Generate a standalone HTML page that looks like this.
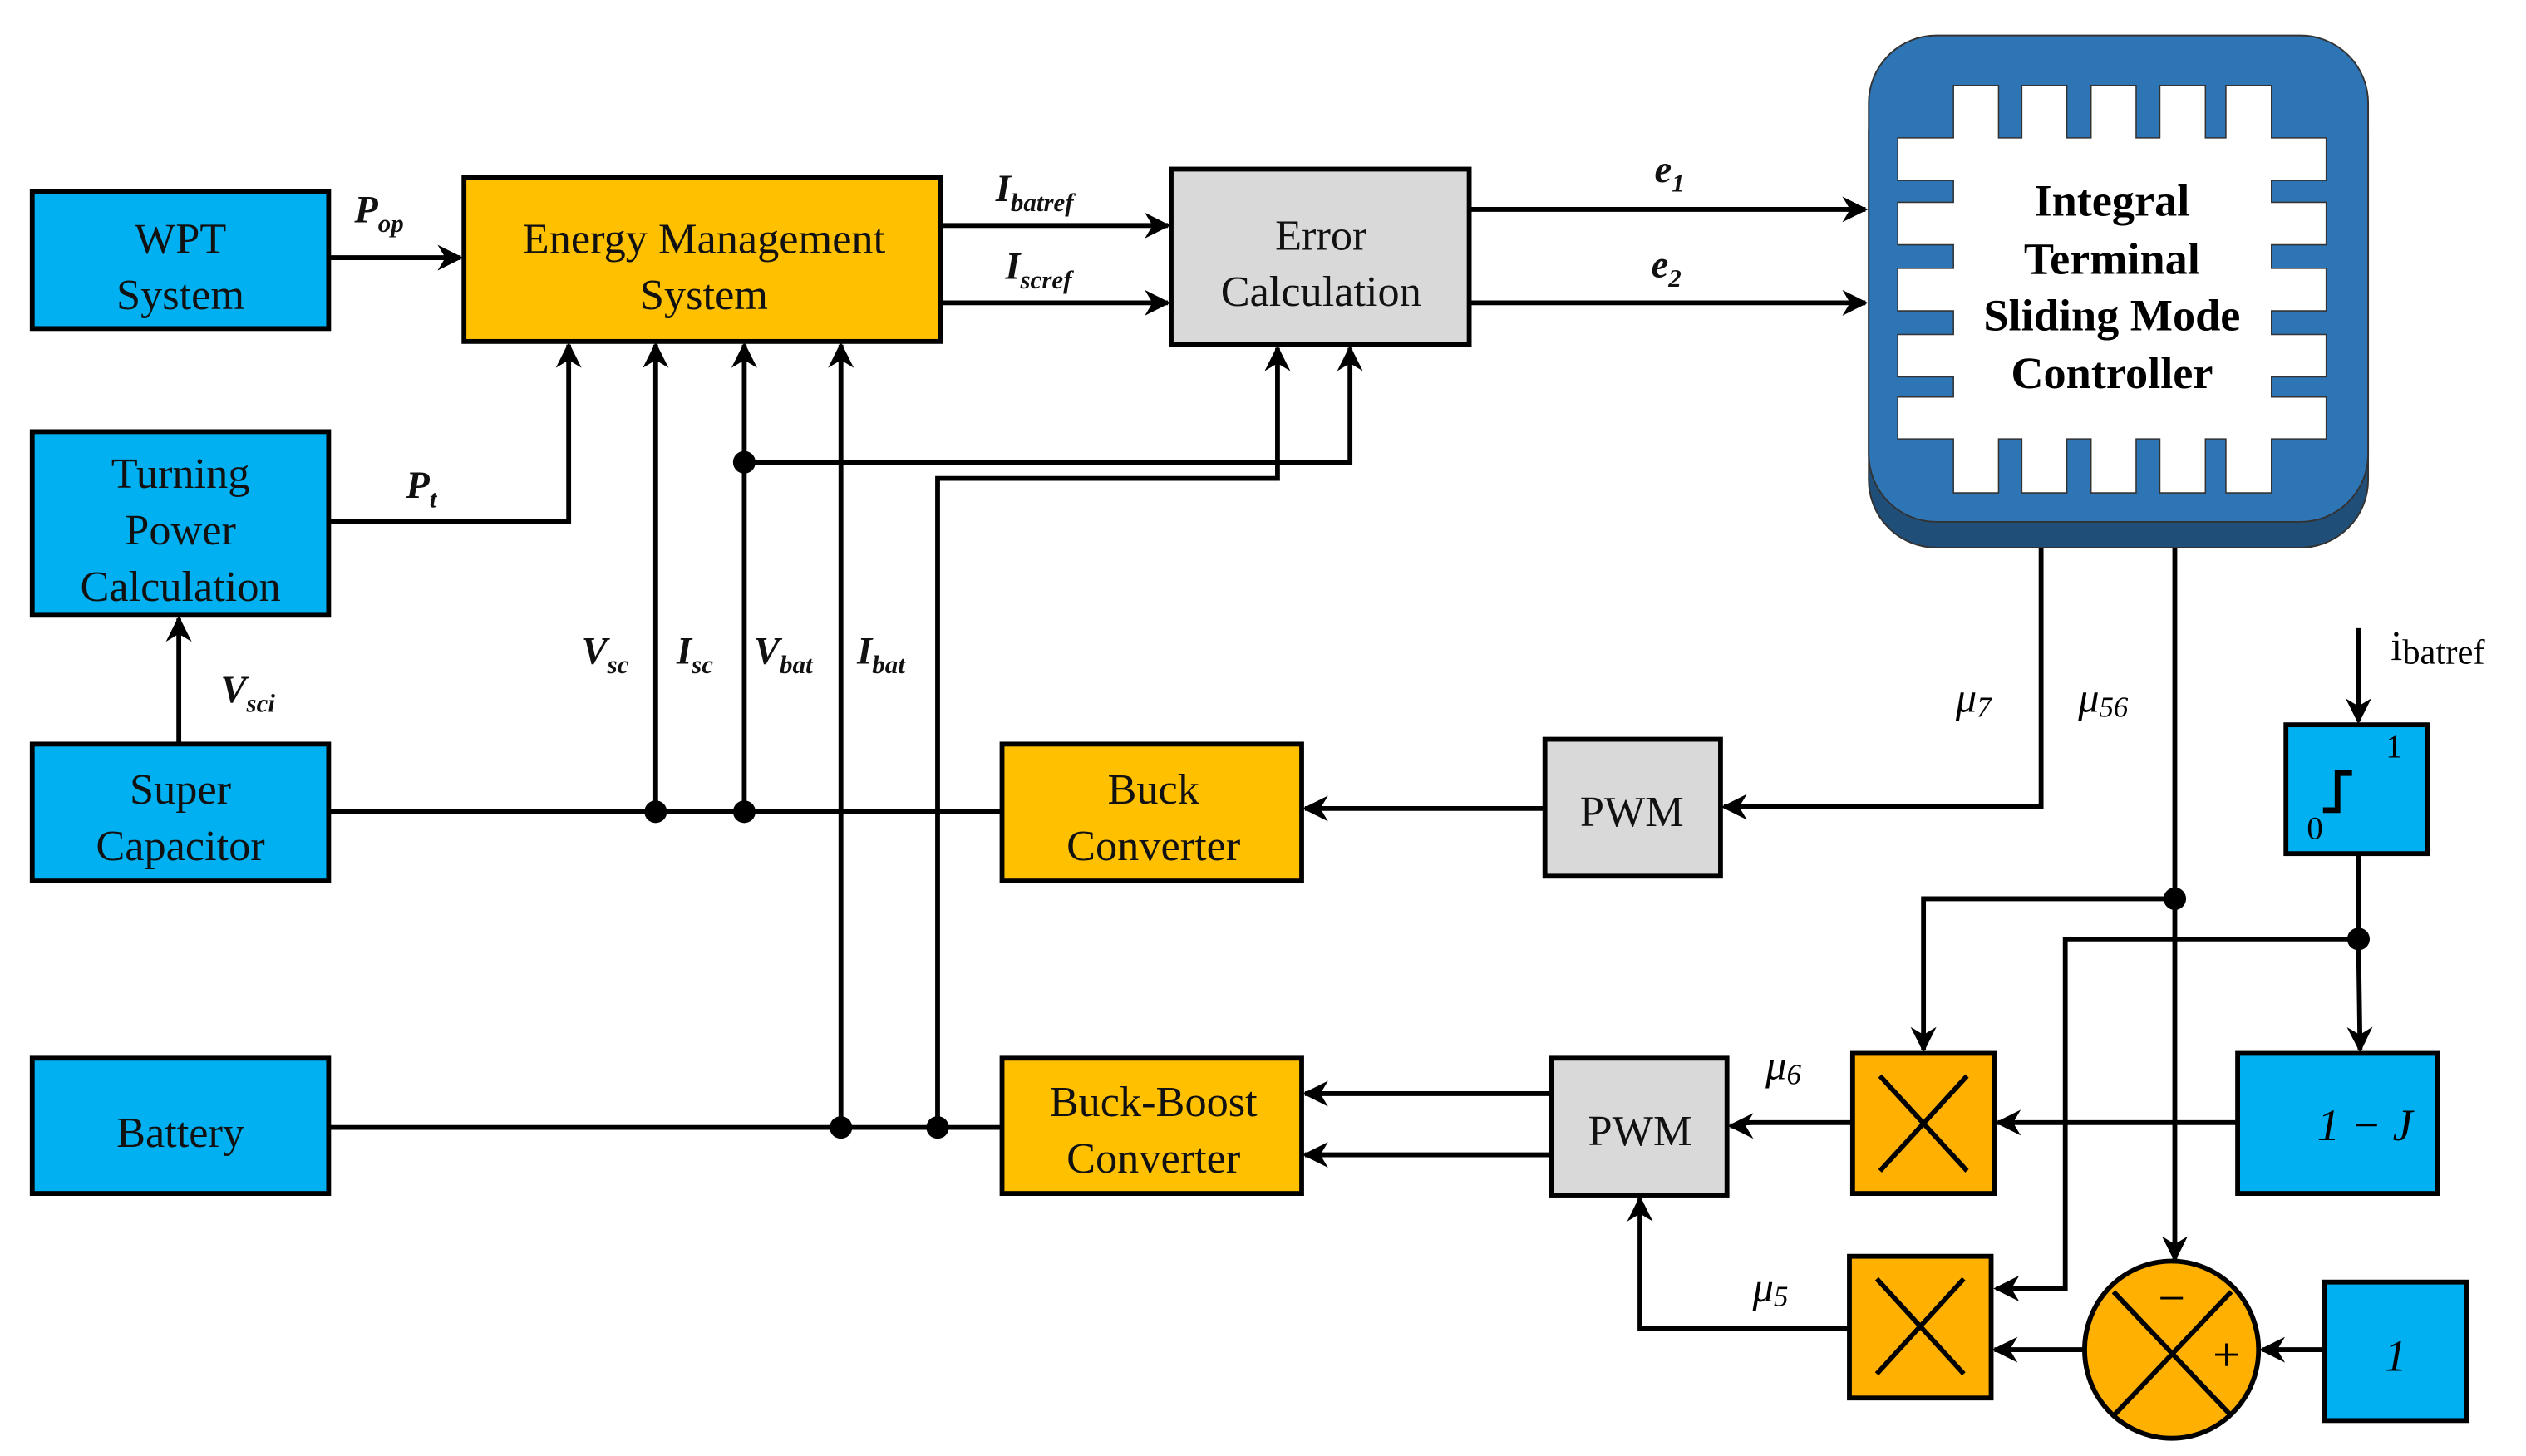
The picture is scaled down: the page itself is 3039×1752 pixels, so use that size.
<!DOCTYPE html>
<html><head><meta charset="utf-8"><style>
html,body{margin:0;padding:0;background:#fff;}
svg{display:block;}
text{font-family:"Liberation Serif",serif;}
.bt{font-size:27px;text-anchor:middle;fill:#111;}
.lb{font-size:24px;font-weight:bold;font-style:italic;fill:#111;}
.sb{font-size:16px;}
</style></head><body>
<svg width="3039" height="1752" viewBox="0 0 1568 904" preserveAspectRatio="none" xmlns="http://www.w3.org/2000/svg">
<defs>
<marker id="A" viewBox="0 0 10 10" refX="9" refY="5" markerWidth="16" markerHeight="16" markerUnits="userSpaceOnUse" orient="auto"><path d="M0,0 L10,5 L0,10 L3,5 z" fill="#000"/></marker>
</defs>
<g stroke="#000" stroke-width="3" fill="none">
<path d="M204,160 H286" marker-end="url(#A)"/>
<path d="M204,324 H353 V214" marker-end="url(#A)"/>
<path d="M111,462 V384" marker-end="url(#A)"/>
<path d="M204,504 H622"/>
<path d="M407,504 V214" marker-end="url(#A)"/>
<path d="M462,504 V214" marker-end="url(#A)"/>
<path d="M462,287 H838 V216" marker-end="url(#A)"/>
<path d="M204,700 H622"/>
<path d="M522,700 V214" marker-end="url(#A)"/>
<path d="M582,700 V297 H793 V216" marker-end="url(#A)"/>
<path d="M584,140 H725" marker-end="url(#A)"/>
<path d="M584,188 H725" marker-end="url(#A)"/>
<path d="M912,130 H1158" marker-end="url(#A)"/>
<path d="M912,188 H1158" marker-end="url(#A)"/>
<path d="M1267,340 V501 H1070" marker-end="url(#A)"/>
<path d="M959,502 H810" marker-end="url(#A)"/>
<path d="M1350,340 V782" marker-end="url(#A)"/>
<path d="M1350,558 H1194 V652" marker-end="url(#A)"/>
<path d="M1464,390 V448" marker-end="url(#A)"/>
<path d="M1464,530 V583 L1465,652" marker-end="url(#A)"/>
<path d="M1464,583 H1282 V800 H1239" marker-end="url(#A)"/>
<path d="M1389,697 H1240" marker-end="url(#A)"/>
<path d="M1150,697 H1088 Q1080,697 1080,699 H1074" marker-end="url(#A)"/>
<path d="M963,679 H810" marker-end="url(#A)"/>
<path d="M963,717 H810" marker-end="url(#A)"/>
<path d="M1148,825 H1018 V744" marker-end="url(#A)"/>
<path d="M1294,838 H1238" marker-end="url(#A)"/>
<path d="M1443,838 H1404" marker-end="url(#A)"/>
</g>
<g fill="#000">
<circle cx="407" cy="504" r="7"/><circle cx="462" cy="504" r="7"/><circle cx="462" cy="287" r="7"/>
<circle cx="522" cy="700" r="7"/><circle cx="582" cy="700" r="7"/>
<circle cx="1350" cy="558" r="7"/><circle cx="1464" cy="583" r="7"/>
</g>
<g stroke="#000" stroke-width="3">
<rect x="20" y="119" width="184" height="85" fill="#00b0f0"/>
<rect x="20" y="268" width="184" height="114" fill="#00b0f0"/>
<rect x="20" y="462" width="184" height="85" fill="#00b0f0"/>
<rect x="20" y="657" width="184" height="84" fill="#00b0f0"/>
<rect x="288" y="110" width="296" height="102" fill="#ffc000"/>
<rect x="727" y="105" width="185" height="109" fill="#d9d9d9"/>
<rect x="622" y="462" width="186" height="85" fill="#ffc000"/>
<rect x="622" y="657" width="186" height="84" fill="#ffc000"/>
<rect x="959" y="459" width="109" height="85" fill="#d9d9d9"/>
<rect x="963" y="657" width="109" height="85" fill="#d9d9d9"/>
<rect x="1419" y="450" width="88" height="80" fill="#00b0f0"/>
<rect x="1389" y="654" width="124" height="87" fill="#00b0f0"/>
<rect x="1150" y="654" width="88" height="87" fill="#ffb000"/>
<rect x="1148" y="780" width="88" height="88" fill="#ffb000"/>
<rect x="1443" y="796" width="88" height="86" fill="#00b0f0"/>
<ellipse cx="1348" cy="838" rx="54" ry="55" fill="#ffb000"/>
</g>
<g stroke="#000" stroke-width="3" fill="none">
<path d="M1167,668 L1221,727 M1221,668 L1167,727"/>
<path d="M1165,794 L1219,853 M1219,794 L1165,853"/>
<path d="M1312,802 L1385,879 M1385,802 L1312,879"/>
<path d="M1442,503 H1451 V480 H1460" stroke-width="3.5"/>
</g>
<text x="1348" y="816" font-size="30" text-anchor="middle">−</text>
<text x="1382" y="851" font-size="30" text-anchor="middle">+</text>
<text x="1437" y="521" font-size="20" text-anchor="middle">0</text>
<text x="1486" y="470" font-size="20" text-anchor="middle">1</text>
<rect x="1160" y="40" width="310" height="300" rx="42" fill="#1f4e79" stroke="#333" stroke-width="1"/>
<rect x="1160" y="22" width="310" height="302" rx="42" fill="#2e75b6" stroke="#333" stroke-width="1"/>
<path fill="#fff" stroke="#333" stroke-width="0.8" d="M1178,85.6 H1212.6 V53 H1240.6 V85.6 H1255 V53 H1283 V85.6 H1298 V53 H1326 V85.6 H1340.7 V53 H1369 V85.6 H1381.7 V53 H1410 V85.6 H1444 V112 H1410 V125.6 H1444 V152 H1410 V166.6 H1444 V193 H1410 V207.7 H1444 V234 H1410 V246.5 H1444 V272.5 H1410 V306 H1381.7 V272.5 H1369 V306 H1340.7 V272.5 H1326 V306 H1298 V272.5 H1283 V306 H1255 V272.5 H1240.6 V306 H1212.6 V272.5 H1178 V246.5 H1212.6 V234 H1178 V207.7 H1212.6 V193 H1178 V166.6 H1212.6 V152 H1178 V125.6 H1212.6 V112 H1178 Z"/>
<g font-size="28" font-weight="bold" text-anchor="middle" fill="#000">
<text x="1311" y="134">Integral</text>
<text x="1311" y="170">Terminal</text>
<text x="1311" y="205">Sliding Mode</text>
<text x="1311" y="241">Controller</text>
</g>
<text class="bt" x="112" y="157">WPT</text><text class="bt" x="112" y="192">System</text>
<text class="bt" x="112" y="303">Turning</text><text class="bt" x="112" y="338">Power</text><text class="bt" x="112" y="373">Calculation</text>
<text class="bt" x="112" y="499">Super</text><text class="bt" x="112" y="534">Capacitor</text>
<text class="bt" x="112" y="712">Battery</text>
<text class="bt" x="437" y="157">Energy Management</text><text class="bt" x="437" y="192">System</text>
<text class="bt" x="820" y="155">Error</text><text class="bt" x="820" y="190">Calculation</text>
<text class="bt" x="716" y="499">Buck</text><text class="bt" x="716" y="534">Converter</text>
<text class="bt" x="716" y="693">Buck-Boost</text><text class="bt" x="716" y="728">Converter</text>
<text class="bt" x="1013" y="513">PWM</text>
<text class="bt" x="1018" y="711">PWM</text>
<text x="1468" y="708" font-size="28" font-style="italic" text-anchor="middle">1 − J</text>
<text x="1487" y="851" font-size="28" font-style="italic" text-anchor="middle">1</text>
<text class="lb" x="220" y="138">P<tspan class="sb" dy="6">op</tspan></text>
<text class="lb" x="252" y="309">P<tspan class="sb" dy="6">t</tspan></text>
<text class="lb" x="137" y="436">V<tspan class="sb" dy="6">sci</tspan></text>
<text class="lb" x="361" y="412">V<tspan class="sb" dy="6">sc</tspan></text>
<text class="lb" x="420" y="412">I<tspan class="sb" dy="6">sc</tspan></text>
<text class="lb" x="468" y="412">V<tspan class="sb" dy="6">bat</tspan></text>
<text class="lb" x="532" y="412">I<tspan class="sb" dy="6">bat</tspan></text>
<text class="lb" x="618" y="125">I<tspan class="sb" dy="6">batref</tspan></text>
<text class="lb" x="624" y="173">I<tspan class="sb" dy="6">scref</tspan></text>
<text class="lb" x="1027" y="113">e<tspan class="sb" dy="6">1</tspan></text>
<text class="lb" x="1025" y="172">e<tspan class="sb" dy="6">2</tspan></text>
<text x="1214" y="442" font-size="26" font-style="italic">μ<tspan font-size="18" dy="3">7</tspan></text>
<text x="1290" y="442" font-size="26" font-style="italic">μ<tspan font-size="18" dy="3">56</tspan></text>
<text x="1096" y="670" font-size="26" font-style="italic">μ<tspan font-size="18" dy="3">6</tspan></text>
<text x="1088" y="808" font-size="26" font-style="italic">μ<tspan font-size="18" dy="3">5</tspan></text>
<text x="1484" y="410" font-size="26">i<tspan font-size="22" dy="2">batref</tspan></text>
</svg>
</body></html>
